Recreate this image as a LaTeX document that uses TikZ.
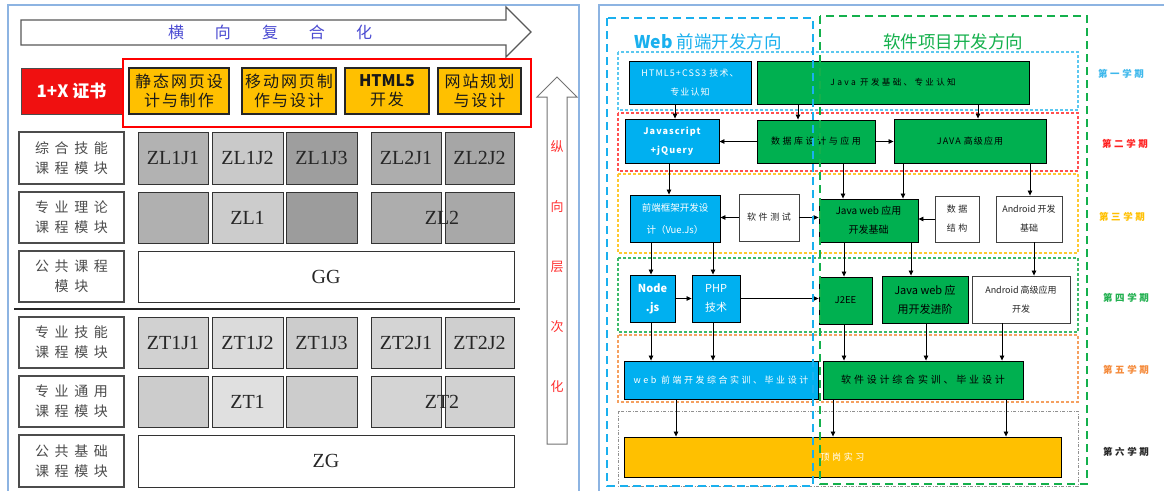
\documentclass[tikz,border=0pt]{standalone}
\usepackage{fontspec}
\setmainfont{Liberation Serif}
\newfontfamily\cjk{Noto Sans CJK SC}
\newfontfamily\cjkw[LetterSpace=28]{Noto Sans CJK SC}
\newfontfamily\cjkm[LetterSpace=12]{Noto Sans CJK SC}
\newfontfamily\cjkl[LetterSpace=40]{Noto Sans CJK SC}
\usetikzlibrary{arrows.meta}
\definecolor{cblue}{HTML}{00B0F0}
\definecolor{cgreen}{HTML}{00B050}
\definecolor{cyellow}{HTML}{FFC000}
\definecolor{xred}{HTML}{F01010}
\definecolor{pborder}{HTML}{8DB4E2}
\definecolor{dblue}{HTML}{1AB0EE}
\definecolor{dgreen}{HTML}{14B04C}
\definecolor{hblue}{HTML}{4B4BD2}
\definecolor{vred}{HTML}{FF3030}
\definecolor{sone}{HTML}{5BC8F0}
\definecolor{stwo}{HTML}{FF5050}
\definecolor{sthree}{HTML}{FFC830}
\definecolor{sfour}{HTML}{3CBB6A}
\definecolor{sfive}{HTML}{F5A060}
\definecolor{ssix}{HTML}{909090}
\definecolor{tone}{HTML}{3DB8EC}
\definecolor{ttwo}{HTML}{FF2020}
\definecolor{tthree}{HTML}{FFC000}
\definecolor{tfour}{HTML}{22B050}
\definecolor{tfive}{HTML}{F58A3A}
\newcommand\mkbox[7]{%
  \pgfmathsetmacro\bxX{(#3+#5)/2}\pgfmathsetmacro\bxY{(#4+#6)/2}%
  \pgfmathsetmacro\bxW{#5-#3}\pgfmathsetmacro\bxH{#6-#4}%
  \node[#1,minimum width=\bxW pt,minimum height=\bxH pt] (#2) at (\bxX,\bxY) {#7};}
\begin{document}
\begin{tikzpicture}[x=1pt,y=-1pt,
  box/.style={draw=black, line width=0.9pt, inner sep=0pt, align=center},
  bbox/.style={box, fill=cblue, text=white},
  gbox/.style={box, fill=cgreen, text=black},
  wbox/.style={box, draw=black!75, fill=white, text=black!85},
  ybox/.style={box, fill=cyellow, text=white},
  fs/.style={font=\cjkw\fontsize{9}{19}\selectfont},
  fm/.style={font=\cjkm\fontsize{9}{19}\selectfont},
  fn/.style={font=\cjk\fontsize{10}{19}\selectfont},
  arr/.style={-{Triangle[length=5pt,width=4.5pt]}, line width=0.8pt, black},
  lab/.style={draw=black!70, line width=1.2pt, fill=white, text=black!70, inner sep=0pt,
    align=center, font=\cjkl\fontsize{14}{20}\selectfont},
  cell/.style={draw=black!80, line width=0.9pt, inner sep=0pt, text=black!85,
    font=\fontsize{20}{20}\selectfont},
  cellr/.style={draw=black!80, line width=0.9pt},
  lyel/.style={draw=black!85, line width=1.5pt, fill=cyellow, inner sep=0pt, align=center,
    text=black!90, font=\cjkm\fontsize{16}{19}\selectfont},
  sem/.style={line width=1.2pt, dash pattern=on 3pt off 2pt},
  semlab/.style={font=\cjkw\bfseries\fontsize{9.5}{10}\selectfont},
  big/.style={line width=2.5pt, dash pattern=on 8pt off 5pt}]
\useasboundingbox (0,0) rectangle (1164,490);
\fill[white] (0,0) rectangle (1164,490);

% ---------------- left panel ----------------
\draw[pborder, line width=1.5pt] (8,5) rectangle (579,493);
\draw[black!65, line width=1.2pt, fill=white] (21,20) -- (506,20) -- (506,7) -- (531,32)
  -- (506,57) -- (506,45) -- (21,45) -- cycle;
\node[text=hblue, font=\cjk\fontsize{16}{16}\selectfont] (htitle) at (270,32)
  {横\hspace{31pt}向\hspace{31pt}复\hspace{31pt}合\hspace{31pt}化};
\draw[black!55, line width=1pt, fill=white] (547,444) -- (547,97) -- (537,97) -- (557,77)
  -- (577,97) -- (567,97) -- (567,444) -- cycle;
\node[text=vred, align=center, font=\cjk\fontsize{13}{60}\selectfont] (vtitle) at (557,267)
  {纵\\向\\层\\次\\化};

\mkbox{draw=black!70, line width=1pt, fill=xred, text=white, inner sep=0pt,
  font=\cjk\bfseries\fontsize{17}{17}\selectfont}{cert}{21}{68}{122}{114}{1+X 证书}
\draw[red, line width=2.5pt] (123,59) rectangle (531,127);
\mkbox{lyel}{y1}{129}{68}{229}{114}{静态网页设\\计与制作}
\mkbox{lyel}{y2}{242}{68}{336}{114}{移动网页制\\作与设计}
\mkbox{lyel}{y3}{345}{68}{429}{114}{{\cjk\bfseries HTML5}\\开发}
\mkbox{lyel}{y4}{438}{68}{521}{114}{网站规划\\与设计}

\mkbox{lab}{l1}{19}{132}{124}{184}{综合技能\\课程模块}
\mkbox{lab}{l2}{19}{192}{124}{243}{专业理论\\课程模块}
\mkbox{lab}{l3}{19}{251}{124}{302}{公共课程\\模块}
\mkbox{lab}{l4}{19}{317}{124}{368}{专业技能\\课程模块}
\mkbox{lab}{l5}{19}{376}{124}{427}{专业通用\\课程模块}
\mkbox{lab}{l6}{19}{435}{124}{487}{公共基础\\课程模块}
\draw[black!85, line width=2pt] (14,309) -- (520,309);

% ZL rows
\mkbox{cell,fill=black!30}{zl1j1}{138}{132}{208}{184}{ZL1J1}
\mkbox{cell,fill=black!21}{zl1j2}{212}{132}{283}{184}{ZL1J2}
\mkbox{cell,fill=black!38}{zl1j3}{286}{132}{357}{184}{ZL1J3}
\mkbox{cell,fill=black!32}{zl2j1}{371}{132}{441}{184}{ZL2J1}
\mkbox{cell,fill=black!35}{zl2j2}{445}{132}{514}{184}{ZL2J2}
\draw[cellr, fill=black!31] (138,192) rectangle (208,243);
\draw[cellr, fill=black!20] (212,192) rectangle (283,243);
\draw[cellr, fill=black!39] (286,192) rectangle (357,243);
\draw[cellr, fill=black!32] (371,192) rectangle (441,243);
\draw[cellr, fill=black!34] (445,192) rectangle (514,243);
\node[cell, draw=none] (zl1) at (247.5,217.5) {ZL1};
\node[cell, draw=none] (zl2) at (442,217.5) {ZL2};
\mkbox{cell,fill=white}{gg}{138}{251}{514}{302}{GG}
% ZT rows
\mkbox{cell,fill=black!18}{zt1j1}{138}{317}{208}{368}{ZT1J1}
\mkbox{cell,fill=black!14}{zt1j2}{212}{317}{283}{368}{ZT1J2}
\mkbox{cell,fill=black!20}{zt1j3}{286}{317}{357}{368}{ZT1J3}
\mkbox{cell,fill=black!17}{zt2j1}{371}{317}{441}{368}{ZT2J1}
\mkbox{cell,fill=black!19}{zt2j2}{445}{317}{514}{368}{ZT2J2}
\draw[cellr, fill=black!20] (138,376) rectangle (208,427);
\draw[cellr, fill=black!12] (212,376) rectangle (283,427);
\draw[cellr, fill=black!20] (286,376) rectangle (357,427);
\draw[cellr, fill=black!17] (371,376) rectangle (441,427);
\draw[cellr, fill=black!18] (445,376) rectangle (514,427);
\node[cell, draw=none] (zt1) at (247.5,401.5) {ZT1};
\node[cell, draw=none] (zt2) at (442,401.5) {ZT2};
\mkbox{cell,fill=white}{zg}{138}{435}{514}{487}{ZG}

% ---------------- right panel ----------------
\draw[pborder, line width=1.5pt] (599,5) rectangle (1170,493);
% semester boxes
\draw[sem, sone] (618,52) rectangle (1078,110);
\draw[sem, stwo] (618,113) rectangle (1078,171);
\draw[sem, sthree] (618,174) rectangle (1078,253);
\draw[sem, sfour] (618,258) rectangle (1078,332);
\draw[sem, sfive] (618,335) rectangle (1078,402);
\draw[ssix, line width=1pt, dash pattern=on 3pt off 1.5pt on 1pt off 1.5pt] (618,411) rectangle (1078,486);

\node[semlab, text=tone] (sl1) at (1121,74) {第一学期};
\node[semlab, text=ttwo] (sl2) at (1125,144) {第二学期};
\node[semlab, text=tthree] (sl3) at (1122,217) {第三学期};
\node[semlab, text=tfour] (sl4) at (1126,298) {第四学期};
\node[semlab, text=tfive] (sl5) at (1126,370) {第五学期};
\node[semlab, text=black!85] (sl6) at (1126,452) {第六学期};

\node[text=dblue, font=\cjk\fontsize{17.5}{18}\selectfont] (t1) at (708,42) {{\bfseries Web} 前端开发方向};
\node[text=dgreen, font=\cjk\fontsize{17.5}{18}\selectfont] (t2) at (953,42) {软件项目开发方向};

% nodes
\mkbox{bbox,fm}{html}{629}{61}{751}{104}{HTML5+CSS3 技术、\\专业认知}
\mkbox{gbox,fs,font=\cjkw\fontsize{8.5}{19}\selectfont}{jdev}{757}{61}{1029}{104}{Java 开发基础、专业认知}
\mkbox{bbox,fm,font=\cjkm\bfseries\fontsize{9}{19}\selectfont}{js}{625}{119}{719}{163}{Javascript\\+jQuery}
\mkbox{gbox,fs}{db}{757}{120}{875}{163}{数据库设计与应用}
\mkbox{gbox,fm}{jadv}{894}{119}{1046}{163}{JAVA 高级应用}
\mkbox{bbox,fn,font=\cjk\fontsize{9.5}{22}\selectfont}{fe}{630}{195}{720}{242}{前端框架开发设\\计（Vue.Js）}
\mkbox{wbox,fs}{test}{739}{194}{799}{241}{软件测试}
\mkbox{gbox,fn}{jwb}{819}{199}{918}{242}{Java web 应用\\开发基础}
\mkbox{wbox,fs}{ds}{935}{196}{979}{242}{数据\\结构}
\mkbox{wbox,fn,font=\cjk\fontsize{9}{19}\selectfont}{andb}{996}{196}{1062}{242}{Android 开发\\基础}
\mkbox{bbox,fn,font=\cjk\bfseries\fontsize{11}{19}\selectfont}{nodejs}{630}{275}{675}{322}{Node\\.js}
\mkbox{bbox,fn,font=\cjk\fontsize{11}{19}\selectfont}{php}{692}{275}{740}{322}{PHP\\技术}
\mkbox{gbox,fn,font=\cjk\fontsize{9.5}{19}\selectfont}{j2ee}{819}{277}{872}{324}{J2EE}
\mkbox{gbox,fn,font=\cjk\fontsize{11}{19}\selectfont}{jwa}{882}{276}{968}{323}{Java web 应\\用开发进阶}
\mkbox{wbox,fn,font=\cjk\fontsize{9}{19}\selectfont}{anda}{972}{276}{1070}{323}{Android 高级应用\\开发}
\mkbox{bbox,fs}{webz}{624}{361}{818}{399}{web 前端开发综合实训、毕业设计}
\mkbox{gbox,fs,font=\cjkw\fontsize{10}{19}\selectfont}{swz}{823}{361}{1023}{399}{软件设计综合实训、毕业设计}
\mkbox{ybox,fs}{dg}{624}{437}{1061}{477}{顶岗实习}

% arrows
\draw[arr] (html.south -| 675,0) -- (js.north -| 675,0);
\draw[arr] (jdev.south -| 798,0) -- (db.north -| 798,0);
\draw[arr] (jdev.south -| 978,0) -- (jadv.north -| 978,0);
\draw[arr] (db.west) -- (db.west -| js.east);
\draw[arr] (db.east) -- (db.east -| jadv.west);
\draw[arr] (js.south -| 669,0) -- (fe.north -| 669,0);
\draw[arr] (db.south -| 843,0) -- (jwb.north -| 843,0);
\draw[arr] (jadv.south -| 903,0) -- (jwb.north -| 903,0);
\draw[arr] (jadv.south -| 1030,0) -- (andb.north -| 1030,0);
\draw[arr] (test.west) -- (test.west -| fe.east);
\draw[arr] (test.east) -- (test.east -| jwb.west);
\draw[arr] (ds.west) -- (ds.west -| jwb.east);
\draw[arr] (fe.south -| 651,0) -- (nodejs.north -| 651,0);
\draw[arr] (fe.south -| 713,0) -- (php.north -| 713,0);
\draw[arr] (nodejs.east) -- (nodejs.east -| php.west);
\draw[arr] (php.east) -- (php.east -| j2ee.west);
\draw[arr] (jwb.south -| 844,0) -- (j2ee.north -| 844,0);
\draw[arr] (jwb.south -| 911,0) -- (jwa.north -| 911,0);
\draw[arr] (andb.south -| 1034,0) -- (anda.north -| 1034,0);
\draw[arr] (nodejs.south -| 651,0) -- (webz.north -| 651,0);
\draw[arr] (php.south -| 713,0) -- (webz.north -| 713,0);
\draw[arr] (j2ee.south -| 844,0) -- (swz.north -| 844,0);
\draw[arr] (jwa.south -| 926,0) -- (swz.north -| 926,0);
\draw[arr] (anda.south -| 1002,0) -- (swz.north -| 1002,0);
\draw[arr] (webz.south -| 676,0) -- (dg.north -| 676,0);
\draw[arr] (swz.south -| 833,0) -- (dg.north -| 833,0);
\draw[arr] (swz.south -| 1006,0) -- (dg.north -| 1006,0);

% direction boxes
\draw[big, dblue] (607,18) rectangle (813,486);
\draw[big, dgreen] (820,16) rectangle (1087,484);
\end{tikzpicture}
\end{document}
